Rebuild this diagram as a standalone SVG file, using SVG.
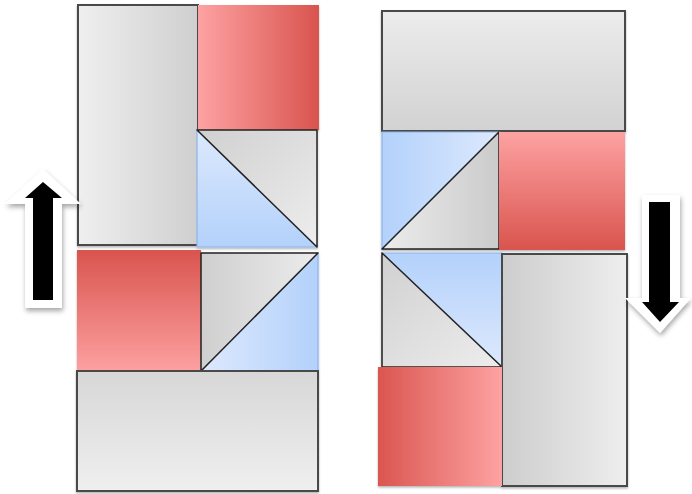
<svg xmlns="http://www.w3.org/2000/svg" width="692" height="494" viewBox="0 0 692 494">
<style>
.g{stroke:#4a4a4a;stroke-width:2}
.tg{stroke:#222;stroke-width:1.5;stroke-linejoin:round}
.tb{stroke:#8db4ea;stroke-width:1.2}
.r{stroke:none}
.arrW{fill:#fff;filter:url(#sh)}
.arrB{fill:#000}
</style>
<defs>
<filter id="sh" x="-30%" y="-20%" width="160%" height="150%"><feDropShadow dx="1" dy="3" stdDeviation="2.5" flood-color="#000" flood-opacity="0.35"/></filter>
<filter id="sh2" x="-10%" y="-10%" width="120%" height="120%"><feDropShadow dx="0" dy="1.5" stdDeviation="1.2" flood-color="#000" flood-opacity="0.3"/></filter>
<linearGradient id="gH1" x1="0" y1="0" x2="1" y2="0"><stop offset="0" stop-color="#efefef"/><stop offset="1" stop-color="#cfcfcf"/></linearGradient>
<linearGradient id="gH2" x1="0" y1="0" x2="1" y2="0"><stop offset="0" stop-color="#cdcdcd"/><stop offset="1" stop-color="#eeeeee"/></linearGradient>
<linearGradient id="gV1" x1="0" y1="0" x2="0" y2="1"><stop offset="0" stop-color="#d7d7d7"/><stop offset="1" stop-color="#efefef"/></linearGradient>
<linearGradient id="gV2" x1="0" y1="0" x2="0" y2="1"><stop offset="0" stop-color="#ececec"/><stop offset="1" stop-color="#d2d2d2"/></linearGradient>
<linearGradient id="rH1" x1="0" y1="0" x2="1" y2="0"><stop offset="0" stop-color="#fda2a2"/><stop offset="1" stop-color="#d9544e"/></linearGradient>
<linearGradient id="rH2" x1="0" y1="0" x2="1" y2="0"><stop offset="0" stop-color="#da5650"/><stop offset="1" stop-color="#fda2a2"/></linearGradient>
<linearGradient id="rV1" x1="0" y1="0" x2="0" y2="1"><stop offset="0" stop-color="#d9544e"/><stop offset="1" stop-color="#fca0a0"/></linearGradient>
<linearGradient id="rV2" x1="0" y1="0" x2="0" y2="1"><stop offset="0" stop-color="#fda2a2"/><stop offset="1" stop-color="#d9544e"/></linearGradient>
<linearGradient id="bV1" x1="0" y1="0" x2="0" y2="1"><stop offset="0" stop-color="#dde9fd"/><stop offset="1" stop-color="#b3d1fb"/></linearGradient>
<linearGradient id="bV2" x1="0" y1="0" x2="0" y2="1"><stop offset="0" stop-color="#b3d1fb"/><stop offset="1" stop-color="#dde9fd"/></linearGradient>
<linearGradient id="bH1" x1="0" y1="0" x2="1" y2="0"><stop offset="0" stop-color="#dde9fd"/><stop offset="1" stop-color="#b3d1fb"/></linearGradient>
<linearGradient id="bH2" x1="0" y1="0" x2="1" y2="0"><stop offset="0" stop-color="#b3d1fb"/><stop offset="1" stop-color="#dde9fd"/></linearGradient>
<linearGradient id="tG1" x1="0" y1="0" x2="1" y2="1"><stop offset="0" stop-color="#d0d0d0"/><stop offset="1" stop-color="#ededed"/></linearGradient>
<linearGradient id="tG2" x1="0" y1="0" x2="1" y2="0"><stop offset="0" stop-color="#cfcfcf"/><stop offset="1" stop-color="#ececec"/></linearGradient>
<linearGradient id="tG3" x1="0" y1="0" x2="1" y2="0"><stop offset="0" stop-color="#ececec"/><stop offset="1" stop-color="#cbcbcb"/></linearGradient>
</defs>

<g id="left-column" filter="url(#sh2)">
  <g id="L-gray-tall"><rect class="g" x="78" y="5" width="120" height="240" fill="url(#gH1)"/></g>
  <g id="L-red-top"><rect class="r" x="198" y="5" width="121" height="125" fill="url(#rH1)"/></g>
  <g id="L-prism-top">
    <polygon class="tb" points="197,130 197,247 317,247" fill="url(#bV1)"/>
    <polygon class="tg" points="197,130 317,130 317,247" fill="url(#tG1)"/>
  </g>
  <g id="L-red-mid"><rect class="r" x="77" y="250" width="124" height="120" fill="url(#rV1)"/></g>
  <g id="L-prism-bottom">
    <polygon class="tb" points="318,253 318,371 201,371" fill="url(#bH1)"/>
    <polygon class="tg" points="201,253 318,253 201,371" fill="url(#tG2)"/>
  </g>
  <g id="L-gray-bottom"><rect class="g" x="77" y="371" width="241" height="120" fill="url(#gV1)"/></g>
</g>

<g id="right-column" filter="url(#sh2)">
  <g id="R-gray-top"><rect class="g" x="382" y="11" width="243" height="120" fill="url(#gV2)"/></g>
  <g id="R-prism-top">
    <polygon class="tb" points="382,132 499,132 382,249" fill="url(#bH2)"/>
    <polygon class="tg" points="499,132 499,249 382,249" fill="url(#tG3)"/>
  </g>
  <g id="R-red-mid"><rect class="r" x="499" y="132" width="126" height="118" fill="url(#rV2)"/></g>
  <g id="R-prism-bottom">
    <polygon class="tb" points="382,253 502,253 502,367" fill="url(#bV2)"/>
    <polygon class="tg" points="382,253 502,367 382,367" fill="url(#tG1)"/>
  </g>
  <g id="R-gray-tall"><rect class="g" x="502" y="254" width="125" height="232" fill="url(#gH2)"/></g>
  <g id="R-red-bottom"><rect class="r" x="378" y="367" width="124" height="119" fill="url(#rH2)"/></g>
</g>

<g id="arrow-up">
  <polygon class="arrW" points="43,169 81,204 62,204 62,308 25,308 25,204 5,204"/>
  <polygon class="arrB" points="43,182 62,198 53,198 53,300 33,300 33,198 25,198"/>
</g>
<g id="arrow-down">
  <polygon class="arrW" points="642,195 680,195 680,298 691,298 660,333 625,298 642,298"/>
  <polygon class="arrB" points="649,202 670,202 670,302 679,302 660,322 642,302 649,302"/>
</g>
</svg>
